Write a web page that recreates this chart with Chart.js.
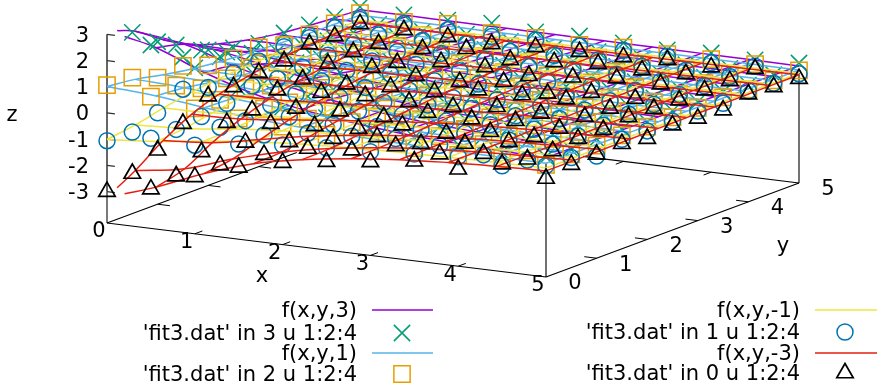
<!DOCTYPE html>
<html>
<head>
<meta charset="utf-8">
<title>fit3</title>
<style>
html, body { margin: 0; background: #fff; }
canvas { display: block; }
</style>
<script src="https://cdn.jsdelivr.net/npm/chart.js@4/dist/chart.umd.js"></script>
</head>
<body>
<canvas id="c" width="877" height="384"></canvas>
<script>
"use strict";
// grid of the data files, rows are y, columns are x
const markerX = [0, 0.5, 1, 1.5, 2, 2.5, 3, 3.5, 4, 4.5, 5];
const markerY = [0, 0.5, 1, 1.5, 2, 2.5, 3, 3.5, 4, 4.5, 5];
// isolines of the fitted surfaces
const lineX = [0, 0.56, 1.11, 1.67, 2.22, 2.78, 3.33, 3.89, 4.44, 5];
const lineY = [0, 0.56, 1.11, 1.67, 2.22, 2.78, 3.33, 3.89, 4.44, 5];
const zTicks = [-3, -2, -1, 0, 1, 2, 3];
const xTicks = [0, 1, 2, 3, 4, 5];
const yTicks = [0, 1, 2, 3, 4, 5];

const data3 = [
  [null,2.8,2.13,1.55,1.05,.85,.6,.5,.45,.35,.38],
  [2.72,2.44,2.2,1.4,1.1,.8,.65,.55,.4,.42,.3],
  [2.0,1.89,1.5,1.2,1.0,.7,.55,.5,.38,.33,.35],
  [1.06,1.45,1.2,.95,.85,.68,.5,.42,.4,.3,.36],
  [.97,1.05,.9,.72,.7,.55,.45,.48,.32,.38,.28],
  [.69,.75,.68,.6,.5,.52,.38,.42,.3,.32,.35],
  [.5,.62,.55,.45,.48,.4,.35,.3,.37,.28,.33],
  [.54,.45,.42,.5,.36,.34,.4,.3,.33,.27,.36],
  [.49,.4,.45,.33,.38,.3,.32,.35,.28,.34,.25],
  [.44,.36,.3,.4,.33,.28,.35,.3,.26,.33,.29],
  [.46,.36,.37,.46,.33,.38,.32,.26,.35,.29,.38]
];
const data2 = [
  [1.06,.83,.59,.41,.3,.2,.15,.1,.05,.12,.08],
  [.99,.89,.55,.42,.25,.32,.15,.2,.1,.07,.12],
  [.63,.43,.64,.3,.35,.18,.28,.12,.08,.15,.1],
  [.72,.45,.38,.27,.3,.22,.12,.2,.1,.05,.13],
  [.38,.5,.3,.22,.18,.25,.14,.1,.17,.08,.1],
  [.29,.33,.2,.28,.15,.12,.18,.14,.08,.13,.1],
  [.35,.2,.26,.15,.1,.22,.1,.13,.07,.12,.1],
  [.08,.18,.14,.12,.2,.08,.15,.1,.12,.06,.14],
  [.13,.22,.1,.16,.12,.1,.07,.14,.1,.12,.09],
  [.19,.12,.15,.08,.14,.1,.12,.07,.13,.1,.08],
  [.22,.09,.22,.08,.1,.04,.14,.1,.12,.13,.1]
];
const data1 = [
  [-1.06,-.76,-.82,-.57,-.4,-.3,-.24,-.12,-.02,-.16,.05],
  [-1.09,-.78,-.49,-.58,-.3,-.22,-.1,-.15,-.31,-.3,.0],
  [-.71,-.65,-.6,-.24,-.33,-.2,-.12,-.05,-.1,-.05,-.3],
  [-.17,-.5,-.36,-.3,-.18,-.12,-.15,-.08,-.05,-.1,-.02],
  [-.46,-.2,-.3,-.22,-.2,-.1,-.03,-.1,.0,-.05,-.06],
  [-.26,-.28,-.15,-.2,-.1,-.18,-.05,-.08,-.03,.02,-.05],
  [-.17,-.2,-.12,-.05,-.1,-.02,.0,-.06,-.04,.03,-.02],
  [.02,-.1,-.12,-.04,-.08,.02,-.1,-.02,.0,.05,-.08],
  [.0,-.06,-.12,.02,-.02,-.08,.03,.05,-.02,.02,.03],
  [.02,-.05,-.04,.04,-.06,.0,.03,.0,.05,.02,-.03],
  [-.02,.03,.0,-.05,.02,.0,.04,.02,-.02,.05,-.03]
];
const data0 = [
  [-3.0,-2.7,-2.03,-1.46,-1.07,-.83,-.63,-.4,-.5,-.1,-.44],
  [-2.67,-2.56,-1.94,-1.33,-.89,-.75,-.38,-.49,-.26,-.27,-.27],
  [-2.14,-2.0,-1.43,-1.2,-.87,-.6,-.65,-.44,-.17,-.31,-.24],
  [-1.48,-1.24,-1.07,-.95,-.85,-.51,-.62,-.35,-.34,-.2,-.19],
  [-.79,-1.12,-.85,-.75,-.76,-.39,-.43,-.29,-.38,-.22,-.35],
  [-.8,-.72,-.6,-.52,-.54,-.53,-.32,-.37,-.29,-.09,-.2],
  [-.61,-.66,-.64,-.54,-.52,-.25,-.23,-.18,-.33,-.13,-.3],
  [-.53,-.42,-.37,-.48,-.5,-.29,-.53,-.29,-.31,-.17,-.34],
  [-.24,-.33,-.54,-.3,-.29,-.42,-.27,-.1,-.12,-.14,-.09],
  [-.3,-.38,-.37,-.16,-.38,-.25,-.12,-.15,-.09,-.15,-.17],
  [-.19,-.21,-.27,-.33,-.24,-.22,-.21,-.12,-.19,-.05,-.22]
];

const surf3 = [
  [3.0,2.72,2.0,1.42,1.05,.79,.61,.49,.41,.35],
  [2.72,2.45,1.87,1.38,1.02,.77,.6,.48,.41,.35],
  [2.0,1.87,1.53,1.19,.92,.71,.57,.47,.4,.34],
  [1.42,1.38,1.19,.99,.79,.63,.52,.44,.38,.33],
  [1.05,1.02,.92,.79,.66,.56,.48,.41,.36,.32],
  [.79,.77,.71,.63,.56,.49,.43,.38,.34,.31],
  [.61,.6,.57,.52,.48,.43,.38,.35,.32,.3],
  [.49,.48,.47,.44,.41,.38,.35,.32,.3,.29],
  [.41,.41,.4,.38,.36,.34,.32,.3,.29,.28],
  [.35,.35,.34,.33,.32,.31,.3,.29,.28,.27]
];
const surf1 = [
  [1.01,.88,.66,.48,.36,.28,.22,.18,.16,.14],
  [.88,.79,.61,.46,.35,.27,.21,.17,.16,.14],
  [.66,.61,.5,.39,.31,.25,.2,.17,.15,.14],
  [.48,.46,.39,.33,.27,.23,.19,.16,.15,.13],
  [.36,.35,.31,.27,.23,.2,.17,.15,.14,.13],
  [.28,.27,.25,.23,.2,.18,.16,.14,.13,.13],
  [.22,.21,.2,.19,.17,.16,.14,.13,.13,.12],
  [.18,.17,.17,.16,.15,.14,.13,.13,.12,.12],
  [.16,.16,.15,.15,.14,.13,.13,.12,.12,.12],
  [.14,.14,.14,.13,.13,.13,.12,.12,.12,.11]
];
const surfM1 = [
  [-1.01,-.86,-.61,-.41,-.28,-.19,-.13,-.09,-.06,-.04],
  [-.86,-.76,-.56,-.39,-.27,-.18,-.12,-.08,-.06,-.04],
  [-.61,-.56,-.44,-.32,-.23,-.16,-.11,-.08,-.06,-.04],
  [-.41,-.39,-.32,-.26,-.19,-.14,-.1,-.07,-.05,-.03],
  [-.28,-.27,-.23,-.19,-.15,-.11,-.08,-.06,-.04,-.03],
  [-.19,-.18,-.16,-.14,-.11,-.09,-.07,-.05,-.04,-.03],
  [-.13,-.12,-.11,-.1,-.08,-.07,-.05,-.04,-.03,-.02],
  [-.09,-.08,-.08,-.07,-.06,-.05,-.04,-.03,-.02,-.02],
  [-.06,-.06,-.06,-.05,-.04,-.04,-.03,-.02,-.02,-.02],
  [-.04,-.04,-.04,-.03,-.03,-.03,-.02,-.02,-.02,-.01]
];
const surfM3 = [
  [-3.0,-2.6,-1.85,-1.25,-.87,-.6,-.41,-.29,-.21,-.15],
  [-2.6,-2.3,-1.7,-1.2,-.84,-.58,-.4,-.28,-.21,-.15],
  [-1.85,-1.7,-1.35,-1.0,-.73,-.52,-.37,-.27,-.2,-.14],
  [-1.25,-1.2,-1.0,-.8,-.6,-.44,-.32,-.24,-.18,-.13],
  [-.87,-.84,-.73,-.6,-.47,-.36,-.28,-.21,-.16,-.12],
  [-.6,-.58,-.52,-.44,-.36,-.29,-.23,-.18,-.14,-.11],
  [-.41,-.4,-.37,-.32,-.28,-.23,-.18,-.15,-.12,-.1],
  [-.29,-.28,-.27,-.24,-.21,-.18,-.15,-.12,-.1,-.09],
  [-.21,-.21,-.2,-.18,-.16,-.14,-.12,-.1,-.09,-.08],
  [-.15,-.15,-.14,-.13,-.12,-.11,-.1,-.09,-.08,-.07]
];

// view of the 3d box on the page
const VIEW = { ox: 107, oy: 223, xx: 87.8, xy: 10.8, yx: 50.6, yy: -18.8, zs: 26.2, zBase: -4.2 };
const proj = (x, y, z) => ({
  x: VIEW.ox + VIEW.xx * x + VIEW.yx * y,
  y: VIEW.oy + VIEW.xy * x + VIEW.yy * y - VIEW.zs * (z - VIEW.zBase)
});

const FONT = "21px 'DejaVu Sans'";
const LW = 1.5;
const series = [
  { line: "#9400d3", surf: surf3, start: 0.2, mark: "#009e73", pts: data3, style: "crossRot", r: 11.5, lw: LW,
    lineName: "f(x,y,3)", markName: "'fit3.dat' in 3 u 1:2:4", key: [372, 433, 402, 310, 333] },
  { line: "#56b4e9", surf: surf1, start: 0, mark: "#e69f00", pts: data2, style: "rect", r: 11.5, lw: LW,
    lineName: "f(x,y,1)", markName: "'fit3.dat' in 2 u 1:2:4", key: [372, 433, 402, 353, 374] },
  { line: "#f0e442", surf: surfM1, start: 0, mark: "#0072b2", pts: data1, style: "circle", r: 8, lw: LW,
    lineName: "f(x,y,-1)", markName: "'fit3.dat' in 1 u 1:2:4", key: [815, 877, 845, 310, 332] },
  { line: "#e51e10", surf: surfM3, start: 0.2, mark: "#000000", pts: data0, style: "triangle", r: 9.5, lw: 1.7,
    lineName: "f(x,y,-3)", markName: "'fit3.dat' in 0 u 1:2:4", key: [815, 877, 845, 353, 373] }
];

const ds = [];
const segment = (pts, color, w) => ds.push({ type: "line", data: pts, borderColor: color, borderWidth: w,
  pointRadius: 0, tension: 0, fill: false });

// box and ticks
segment([proj(0, 0, -3), proj(0, 0, 3)], "#333", 1.5);
segment([proj(0, 0, VIEW.zBase), proj(0, 0, -3)], "#222", 1.2);
segment([proj(5, 0, VIEW.zBase), proj(5, 0, 0.15)], "#111", 1.2);
segment([proj(5, 5, VIEW.zBase), proj(5, 5, 0)], "#444", 1.5);
segment([proj(0, 0, VIEW.zBase), proj(5, 0, VIEW.zBase)], "#000", 1.2);
segment([proj(5, 0, VIEW.zBase), proj(5, 5, VIEW.zBase)], "#000", 1.2);
segment([proj(0, 0, VIEW.zBase), proj(0, 3.75, VIEW.zBase)], "#000", 1.2);
segment([proj(2.54, 5, VIEW.zBase), proj(5, 5, VIEW.zBase)], "#000", 1.2);
zTicks.forEach(z => segment([proj(0, 0, z), proj(0.09, 0, z)], "#333", 1.2));
xTicks.slice(1, 5).forEach(x => {
  segment([proj(x, 0, VIEW.zBase), proj(x, 0.15, VIEW.zBase)], "#000", 1);
  if (x >= 3) segment([proj(x, 5, VIEW.zBase), proj(x, 4.85, VIEW.zBase)], "#000", 1);
});
yTicks.slice(1, 5).forEach(y => {
  segment([proj(5, y, VIEW.zBase), proj(4.86, y, VIEW.zBase)], "#000", 1);
  if (y <= 3) segment([proj(0, y, VIEW.zBase), proj(0.14, y, VIEW.zBase)], "#000", 1);
});

// surfaces and data, in plotting order
series.forEach(s => {
  lineX.forEach((x, a) => {
    const pts = [];
    lineY.forEach((y, b) => pts.push(proj(x, a === 0 && b === 0 ? s.start : y, s.surf[a][b])));
    ds.push({ type: "line", data: pts, borderColor: s.line, borderWidth: LW, pointRadius: 0, tension: 0.4, fill: false });
  });
  lineY.forEach((y, b) => {
    const pts = [];
    lineX.forEach((x, a) => pts.push(proj(b === 0 && a === 0 ? s.start : x, y, s.surf[a][b])));
    ds.push({ type: "line", data: pts, borderColor: s.line, borderWidth: LW, pointRadius: 0, tension: 0.4, fill: false });
  });
  const pts = [];
  s.pts.forEach((row, j) => row.forEach((z, i) => { if (z !== null) pts.push(proj(markerX[i], markerY[j], z)); }));
  ds.push({ type: "scatter", data: pts, showLine: false, pointStyle: s.style, pointRadius: s.r, pointBorderWidth: s.lw,
    pointBorderColor: s.mark, pointBackgroundColor: "transparent", pointHoverRadius: s.r });
});

// key samples
series.forEach(s => {
  const k = s.key;
  segment([{ x: k[0], y: k[3] }, { x: k[1], y: k[3] }], s.line, LW);
  ds.push({ type: "scatter", data: [{ x: k[2], y: k[4] }], showLine: false, pointStyle: s.style, pointRadius: s.r,
    pointBorderWidth: s.lw, pointBorderColor: s.mark, pointBackgroundColor: "transparent" });
});

const labels = {
  id: "labels",
  afterDraw(chart) {
    const c = chart.ctx;
    c.save();
    c.translate(0, 2); // canvas "middle" sits a bit high for this font
    c.font = FONT; c.fillStyle = "#000"; c.textBaseline = "middle";
    c.textAlign = "right";
    zTicks.forEach(z => c.fillText(String(z), 89, proj(0, 0, z).y));
    c.textAlign = "center";
    c.fillText("z", 12, 114);
    xTicks.forEach(x => { const p = proj(x, 0, VIEW.zBase); c.fillText(String(x), p.x - 8, p.y + 7); });
    yTicks.forEach(y => { const p = proj(5, y, VIEW.zBase); c.fillText(String(y), p.x + 29, p.y + 5); });
    c.fillText("x", 262, 275);
    c.fillText("y", 783, 245);
    c.textAlign = "right";
    series.forEach(s => {
      const right = s.key[0] - 15;
      c.fillText(s.lineName, right, s.key[3]);
      c.fillText(s.markName, right, s.key[4]);
    });
    c.restore();
  }
};

new Chart(document.getElementById("c"), {
  data: { datasets: ds.map((d, i) => Object.assign(d, { order: ds.length - i })) },
  plugins: [labels],
  options: {
    responsive: false, animation: false, devicePixelRatio: 1,
    layout: { padding: 0, autoPadding: false },
    events: [],
    plugins: { legend: { display: false }, tooltip: { enabled: false } },
    scales: {
      x: { type: "linear", display: false, min: 0, max: 877 },
      y: { type: "linear", display: false, min: 0, max: 384, reverse: true }
    }
  }
});
</script>
</body>
</html>
